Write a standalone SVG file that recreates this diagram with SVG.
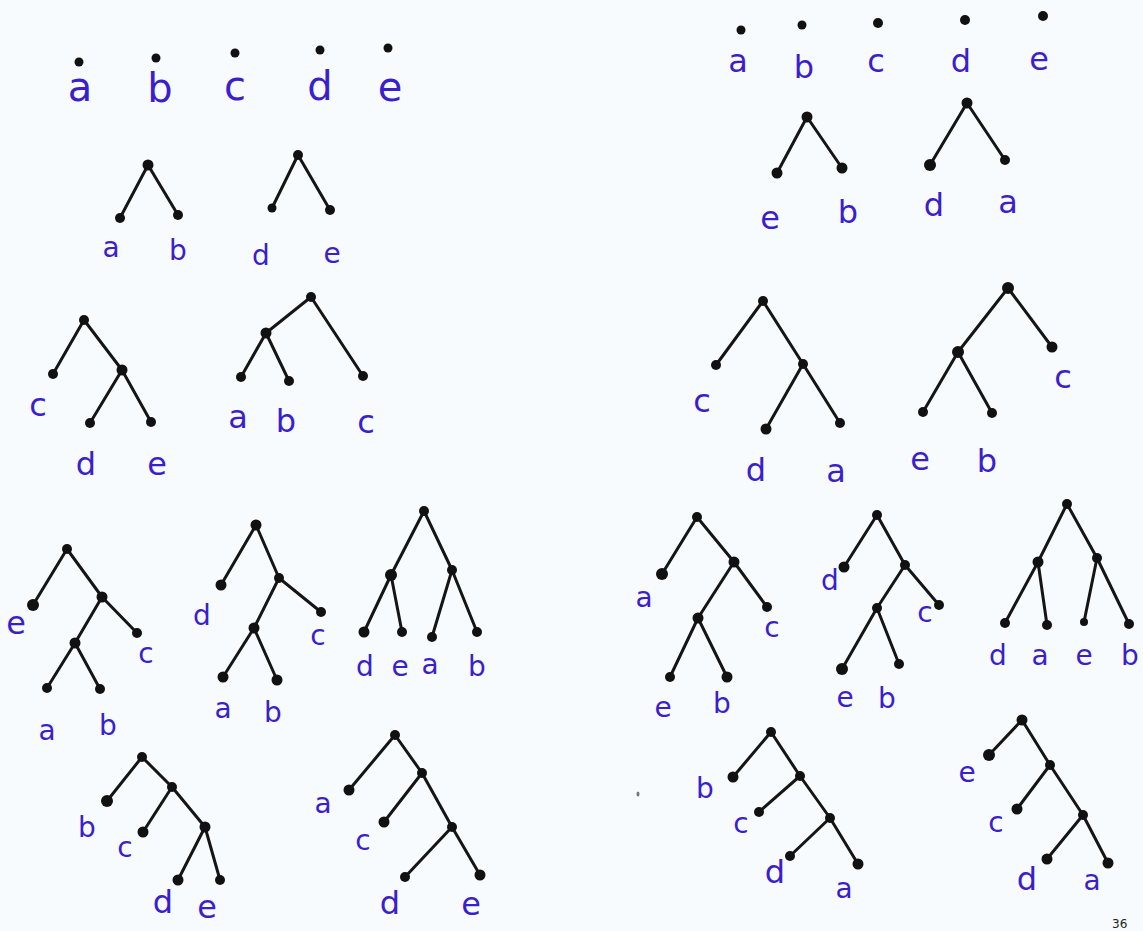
<svg xmlns="http://www.w3.org/2000/svg" width="1143" height="931" viewBox="0 0 1143 931">
<style>
.e{stroke:#151515;stroke-width:3;fill:none;stroke-linecap:round}
.n{fill:#111}
.t{font-family:"DejaVu Sans",sans-serif;fill:#3c1fcc;text-anchor:middle}
.lg{font-size:40px}
.md{font-size:32px}
.sm{font-size:28px}
</style>
<rect width="1143" height="931" fill="#f7fbfd"/>
<g id="connectors">
<line class="e" x1="148" y1="165" x2="120" y2="218"/><line class="e" x1="148" y1="165" x2="178" y2="215"/>
<line class="e" x1="298" y1="155" x2="272" y2="208"/><line class="e" x1="298" y1="155" x2="330" y2="210"/>
<line class="e" x1="807" y1="117" x2="777" y2="173"/><line class="e" x1="807" y1="117" x2="842" y2="168"/>
<line class="e" x1="967" y1="103" x2="930" y2="165"/><line class="e" x1="967" y1="103" x2="1005" y2="160"/>
<line class="e" x1="84" y1="320" x2="53" y2="374"/><line class="e" x1="84" y1="320" x2="122" y2="370"/>
<line class="e" x1="122" y1="370" x2="90" y2="423"/><line class="e" x1="122" y1="370" x2="151" y2="422"/>
<line class="e" x1="311" y1="297" x2="266" y2="333"/><line class="e" x1="311" y1="297" x2="363" y2="376"/>
<line class="e" x1="266" y1="333" x2="241" y2="377"/><line class="e" x1="266" y1="333" x2="289" y2="381"/>
<line class="e" x1="763" y1="301" x2="716" y2="365"/><line class="e" x1="763" y1="301" x2="803" y2="364"/>
<line class="e" x1="803" y1="364" x2="766" y2="429"/><line class="e" x1="803" y1="364" x2="840" y2="423"/>
<line class="e" x1="1008" y1="288" x2="958" y2="352"/><line class="e" x1="1008" y1="288" x2="1052" y2="347"/>
<line class="e" x1="958" y1="352" x2="923" y2="412"/><line class="e" x1="958" y1="352" x2="992" y2="413"/>
<line class="e" x1="67" y1="549" x2="33" y2="605"/><line class="e" x1="67" y1="549" x2="102" y2="597"/>
<line class="e" x1="102" y1="597" x2="75" y2="643"/><line class="e" x1="102" y1="597" x2="137" y2="633"/>
<line class="e" x1="75" y1="643" x2="47" y2="688"/><line class="e" x1="75" y1="643" x2="100" y2="689"/>
<line class="e" x1="256" y1="525" x2="221" y2="585"/><line class="e" x1="256" y1="525" x2="279" y2="578"/>
<line class="e" x1="279" y1="578" x2="254" y2="628"/><line class="e" x1="279" y1="578" x2="321" y2="612"/>
<line class="e" x1="254" y1="628" x2="223" y2="677"/><line class="e" x1="254" y1="628" x2="277" y2="680"/>
<line class="e" x1="424" y1="511" x2="391" y2="575"/><line class="e" x1="424" y1="511" x2="452" y2="570"/>
<line class="e" x1="391" y1="575" x2="364" y2="632"/><line class="e" x1="391" y1="575" x2="402" y2="632"/>
<line class="e" x1="452" y1="570" x2="432" y2="637"/><line class="e" x1="452" y1="570" x2="477" y2="632"/>
<line class="e" x1="697" y1="517" x2="662" y2="574"/><line class="e" x1="697" y1="517" x2="734" y2="562"/>
<line class="e" x1="734" y1="562" x2="698" y2="618"/><line class="e" x1="734" y1="562" x2="767" y2="607"/>
<line class="e" x1="698" y1="618" x2="670" y2="677"/><line class="e" x1="698" y1="618" x2="727" y2="677"/>
<line class="e" x1="877" y1="515" x2="844" y2="567"/><line class="e" x1="877" y1="515" x2="905" y2="565"/>
<line class="e" x1="905" y1="565" x2="877" y2="608"/><line class="e" x1="905" y1="565" x2="939" y2="605"/>
<line class="e" x1="877" y1="608" x2="842" y2="669"/><line class="e" x1="877" y1="608" x2="899" y2="664"/>
<line class="e" x1="1067" y1="504" x2="1038" y2="562"/><line class="e" x1="1067" y1="504" x2="1097" y2="558"/>
<line class="e" x1="1038" y1="562" x2="1005" y2="623"/><line class="e" x1="1038" y1="562" x2="1047" y2="625"/>
<line class="e" x1="1097" y1="558" x2="1084" y2="622"/><line class="e" x1="1097" y1="558" x2="1129" y2="624"/>
<line class="e" x1="142" y1="757" x2="107" y2="801"/><line class="e" x1="142" y1="757" x2="172" y2="787"/>
<line class="e" x1="172" y1="787" x2="143" y2="832"/><line class="e" x1="172" y1="787" x2="205" y2="827"/>
<line class="e" x1="205" y1="827" x2="178" y2="880"/><line class="e" x1="205" y1="827" x2="220" y2="880"/>
<line class="e" x1="395" y1="735" x2="349" y2="790"/><line class="e" x1="395" y1="735" x2="422" y2="773"/>
<line class="e" x1="422" y1="773" x2="384" y2="822"/><line class="e" x1="422" y1="773" x2="452" y2="827"/>
<line class="e" x1="452" y1="827" x2="405" y2="877"/><line class="e" x1="452" y1="827" x2="480" y2="875"/>
<line class="e" x1="771" y1="732" x2="733" y2="777"/><line class="e" x1="771" y1="732" x2="800" y2="776"/>
<line class="e" x1="800" y1="776" x2="759" y2="812"/><line class="e" x1="800" y1="776" x2="830" y2="818"/>
<line class="e" x1="830" y1="818" x2="790" y2="856"/><line class="e" x1="830" y1="818" x2="858" y2="864"/>
<line class="e" x1="1022" y1="720" x2="989" y2="755"/><line class="e" x1="1022" y1="720" x2="1050" y2="765"/>
<line class="e" x1="1050" y1="765" x2="1017" y2="809"/><line class="e" x1="1050" y1="765" x2="1083" y2="815"/>
<line class="e" x1="1083" y1="815" x2="1047" y2="859"/><line class="e" x1="1083" y1="815" x2="1108" y2="863"/>
</g>
<g id="singles-left">
<circle class="n" cx="79" cy="62" r="4.5"/><circle class="n" cx="156" cy="58" r="4.5"/><circle class="n" cx="235" cy="53" r="4.5"/><circle class="n" cx="320" cy="50" r="4.5"/><circle class="n" cx="388" cy="48" r="4.5"/>
<text class="t lg" x="80" y="101">a</text><text class="t lg" x="160" y="102">b</text><text class="t lg" x="235" y="100">c</text><text class="t lg" x="320" y="100">d</text><text class="t lg" x="390" y="101">e</text>
</g>
<g id="singles-right">
<circle class="n" cx="741" cy="30" r="4.5"/><circle class="n" cx="802" cy="25" r="4.5"/><circle class="n" cx="878" cy="23" r="5"/><circle class="n" cx="965" cy="20" r="5"/><circle class="n" cx="1043" cy="16" r="5"/>
<text class="t md" x="738" y="72">a</text><text class="t md" x="804" y="78">b</text><text class="t md" x="876" y="72">c</text><text class="t md" x="961" y="72">d</text><text class="t md" x="1039" y="70">e</text>
</g>
<g id="tree-ab">
<circle class="n" cx="148" cy="165" r="5.5"/><circle class="n" cx="120" cy="218" r="5"/><circle class="n" cx="178" cy="215" r="5"/>
<text class="t sm" x="111" y="257">a</text><text class="t sm" x="178" y="260">b</text>
</g>
<g id="tree-de">
<circle class="n" cx="298" cy="155" r="5"/><circle class="n" cx="272" cy="208" r="4.5"/><circle class="n" cx="330" cy="210" r="5"/>
<text class="t sm" x="261" y="265">d</text><text class="t sm" x="332" y="263">e</text>
</g>
<g id="tree-eb">
<circle class="n" cx="807" cy="117" r="5.5"/><circle class="n" cx="777" cy="173" r="5.5"/><circle class="n" cx="842" cy="168" r="5.5"/>
<text class="t md" x="770" y="229">e</text><text class="t md" x="848" y="223">b</text>
</g>
<g id="tree-da">
<circle class="n" cx="967" cy="103" r="5.5"/><circle class="n" cx="930" cy="165" r="6"/><circle class="n" cx="1005" cy="160" r="5"/>
<text class="t md" x="934" y="216">d</text><text class="t md" x="1008" y="213">a</text>
</g>
<g id="tree-c-de">
<circle class="n" cx="84" cy="320" r="5"/><circle class="n" cx="53" cy="374" r="5"/><circle class="n" cx="122" cy="370" r="5.5"/><circle class="n" cx="90" cy="423" r="5"/><circle class="n" cx="151" cy="422" r="5"/>
<text class="t md" x="38" y="416">c</text><text class="t md" x="86" y="475">d</text><text class="t md" x="157" y="475">e</text>
</g>
<g id="tree-ab-c">
<circle class="n" cx="311" cy="297" r="5"/><circle class="n" cx="266" cy="333" r="5.5"/><circle class="n" cx="241" cy="377" r="5"/><circle class="n" cx="289" cy="381" r="5"/><circle class="n" cx="363" cy="376" r="5"/>
<text class="t md" x="238" y="428">a</text><text class="t md" x="286" y="432">b</text><text class="t md" x="366" y="433">c</text>
</g>
<g id="tree-c-da">
<circle class="n" cx="763" cy="301" r="5"/><circle class="n" cx="716" cy="365" r="5"/><circle class="n" cx="803" cy="364" r="5"/><circle class="n" cx="766" cy="429" r="5.5"/><circle class="n" cx="840" cy="423" r="5"/>
<text class="t md" x="702" y="412">c</text><text class="t md" x="756" y="481">d</text><text class="t md" x="836" y="482">a</text>
</g>
<g id="tree-eb-c">
<circle class="n" cx="1008" cy="288" r="6"/><circle class="n" cx="958" cy="352" r="6"/><circle class="n" cx="923" cy="412" r="5"/><circle class="n" cx="992" cy="413" r="5"/><circle class="n" cx="1052" cy="347" r="5.5"/>
<text class="t md" x="920" y="470">e</text><text class="t md" x="987" y="472">b</text><text class="t md" x="1063" y="388">c</text>
</g>
<g id="tree-e-abc">
<circle class="n" cx="67" cy="549" r="5"/><circle class="n" cx="33" cy="605" r="6"/><circle class="n" cx="102" cy="597" r="5.5"/><circle class="n" cx="75" cy="643" r="5.5"/><circle class="n" cx="47" cy="688" r="5"/><circle class="n" cx="100" cy="689" r="5"/><circle class="n" cx="137" cy="633" r="5"/>
<text class="t md" x="16" y="634">e</text><text class="t sm" x="146" y="663">c</text><text class="t sm" x="47" y="740">a</text><text class="t sm" x="108" y="735">b</text>
</g>
<g id="tree-d-abc">
<circle class="n" cx="256" cy="525" r="5.5"/><circle class="n" cx="221" cy="585" r="5.5"/><circle class="n" cx="279" cy="578" r="5"/><circle class="n" cx="254" cy="628" r="5.5"/><circle class="n" cx="321" cy="612" r="5"/><circle class="n" cx="223" cy="677" r="5.5"/><circle class="n" cx="277" cy="680" r="5.5"/>
<text class="t sm" x="202" y="625">d</text><text class="t sm" x="318" y="645">c</text><text class="t sm" x="223" y="718">a</text><text class="t sm" x="273" y="722">b</text>
</g>
<g id="tree-de-ab">
<circle class="n" cx="424" cy="511" r="5"/><circle class="n" cx="391" cy="575" r="6"/><circle class="n" cx="452" cy="570" r="5"/><circle class="n" cx="364" cy="632" r="5.5"/><circle class="n" cx="402" cy="632" r="5"/><circle class="n" cx="432" cy="637" r="5"/><circle class="n" cx="477" cy="632" r="5"/>
<text class="t sm" x="365" y="676">d</text><text class="t sm" x="400" y="676">e</text><text class="t sm" x="430" y="674">a</text><text class="t sm" x="477" y="676">b</text>
</g>
<g id="tree-a-ebc">
<circle class="n" cx="697" cy="517" r="5"/><circle class="n" cx="662" cy="574" r="6"/><circle class="n" cx="734" cy="562" r="5.5"/><circle class="n" cx="698" cy="618" r="5.5"/><circle class="n" cx="767" cy="607" r="5"/><circle class="n" cx="670" cy="677" r="5"/><circle class="n" cx="727" cy="677" r="5.5"/>
<text class="t sm" x="644" y="607">a</text><text class="t sm" x="772" y="637">c</text><text class="t sm" x="663" y="717">e</text><text class="t sm" x="722" y="713">b</text>
</g>
<g id="tree-d-ebc">
<circle class="n" cx="877" cy="515" r="5"/><circle class="n" cx="844" cy="567" r="5.5"/><circle class="n" cx="905" cy="565" r="5"/><circle class="n" cx="877" cy="608" r="5"/><circle class="n" cx="939" cy="605" r="5"/><circle class="n" cx="842" cy="669" r="6"/><circle class="n" cx="899" cy="664" r="5"/>
<text class="t sm" x="830" y="590">d</text><text class="t sm" x="925" y="622">c</text><text class="t sm" x="845" y="707">e</text><text class="t sm" x="887" y="708">b</text>
</g>
<g id="tree-da-eb">
<circle class="n" cx="1067" cy="504" r="5"/><circle class="n" cx="1038" cy="562" r="5.5"/><circle class="n" cx="1097" cy="558" r="5"/><circle class="n" cx="1005" cy="623" r="5"/><circle class="n" cx="1047" cy="625" r="5"/><circle class="n" cx="1084" cy="622" r="4"/><circle class="n" cx="1129" cy="624" r="5"/>
<text class="t sm" x="998" y="665">d</text><text class="t sm" x="1040" y="665">a</text><text class="t sm" x="1084" y="665">e</text><text class="t sm" x="1130" y="665">b</text>
</g>
<g id="tree-b-cde">
<circle class="n" cx="142" cy="757" r="5"/><circle class="n" cx="107" cy="801" r="6"/><circle class="n" cx="172" cy="787" r="5"/><circle class="n" cx="143" cy="832" r="5.5"/><circle class="n" cx="205" cy="827" r="5.5"/><circle class="n" cx="178" cy="880" r="5.5"/><circle class="n" cx="220" cy="880" r="5"/>
<text class="t sm" x="87" y="837">b</text><text class="t sm" x="125" y="857">c</text><text class="t md" x="163" y="913">d</text><text class="t md" x="207" y="918">e</text>
</g>
<g id="tree-a-cde">
<circle class="n" cx="395" cy="735" r="5"/><circle class="n" cx="349" cy="790" r="5.5"/><circle class="n" cx="422" cy="773" r="5"/><circle class="n" cx="384" cy="822" r="5.5"/><circle class="n" cx="452" cy="827" r="5"/><circle class="n" cx="405" cy="877" r="5"/><circle class="n" cx="480" cy="875" r="5.5"/>
<text class="t sm" x="323" y="813">a</text><text class="t sm" x="363" y="850">c</text><text class="t md" x="390" y="914">d</text><text class="t md" x="471" y="915">e</text>
</g>
<g id="tree-b-cda">
<circle class="n" cx="771" cy="732" r="5"/><circle class="n" cx="733" cy="777" r="5.5"/><circle class="n" cx="800" cy="776" r="5"/><circle class="n" cx="759" cy="812" r="5"/><circle class="n" cx="830" cy="818" r="5"/><circle class="n" cx="790" cy="856" r="5"/><circle class="n" cx="858" cy="864" r="5.5"/>
<text class="t sm" x="705" y="798">b</text><text class="t sm" x="741" y="833">c</text><text class="t md" x="775" y="883">d</text><text class="t sm" x="844" y="898">a</text>
</g>
<g id="tree-e-cda">
<circle class="n" cx="1022" cy="720" r="5.5"/><circle class="n" cx="989" cy="755" r="6"/><circle class="n" cx="1050" cy="765" r="5"/><circle class="n" cx="1017" cy="809" r="5.5"/><circle class="n" cx="1083" cy="815" r="5"/><circle class="n" cx="1047" cy="859" r="5.5"/><circle class="n" cx="1108" cy="863" r="5.5"/>
<text class="t sm" x="967" y="782">e</text><text class="t sm" x="996" y="832">c</text><text class="t md" x="1027" y="890">d</text><text class="t sm" x="1092" y="890">a</text>
</g>
<ellipse cx="638" cy="794" rx="1.5" ry="2.5" fill="#777"/>
<text x="1112" y="928" font-family="DejaVu Sans,sans-serif" font-size="12" fill="#222">36</text>
</svg>
